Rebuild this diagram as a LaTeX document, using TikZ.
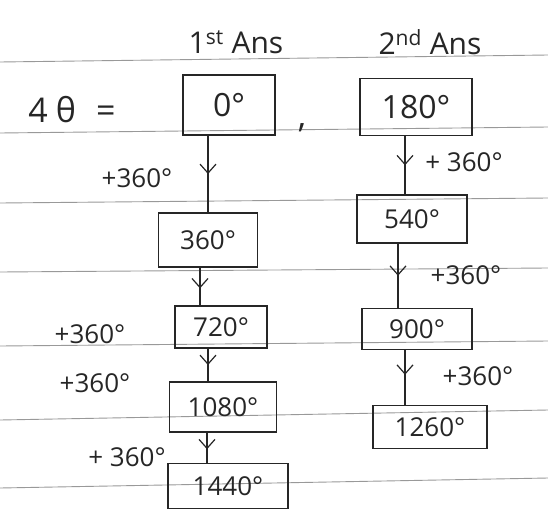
\documentclass[tikz,border=0pt]{standalone}
\usepackage{fontspec}
\setmainfont{Open Sans}
\usetikzlibrary{decorations.markings,arrows.meta}
\begin{document}
\begin{tikzpicture}[x=1pt,y=-1pt,
 ruled/.style={draw=black!40,line width=0.9pt},
 numbox/.style={draw=black!85,line width=1.4pt,inner sep=0pt,font=\fontsize{26}{28}\selectfont,text=black!85},
 bignum/.style={numbox,font=\fontsize{32}{34}\selectfont},
 lbl/.style={font=\fontsize{26}{28}\selectfont,text=black!85,inner sep=0pt},
 flow/.style={draw=black!85,line width=1.2pt,postaction={decorate},
   decoration={markings,mark=at position #1 with {\arrow{Straight Barb[length=9pt,width=16pt,line width=1.2pt]}}}},
 flow/.default=0.5,
]
\fill[white] (0,0) rectangle (548,519);
\useasboundingbox (0,0) rectangle (548,519);

% ruled lines
\draw[ruled] (0,62) -- (548,55);
\draw[ruled] (0,133) -- (548,127);
\draw[ruled] (0,203) -- (548,198);
\draw[ruled] (0,272) -- (548,268);
\draw[ruled] (0,346) -- (548,341);
\draw[ruled] (0,420) -- (548,410);
\draw[ruled] (0,488) -- (548,478);

% headings
\node[lbl,font=\fontsize{30}{32}\selectfont] (h1) at (236,42) {1\textsuperscript{st} Ans};
\node[lbl,font=\fontsize{30}{32}\selectfont] (h2) at (430,42) {2\textsuperscript{nd} Ans};

% equation
\node[lbl,font=\fontsize{34}{36}\selectfont] (eq) at (72,110) {4\hspace{8pt}θ\hspace{20pt}=};
\node[lbl,font=\fontsize{34}{36}\selectfont] (comma) at (302,128) {,};

% boxes
\node[bignum,minimum width=92,minimum height=60] (b0) at (229,105) {0°};
\node[bignum,minimum width=112,minimum height=57] (b180) at (416,107) {180°};
\node[numbox,minimum width=99,minimum height=54] (b360) at (208,240) {360°};
\node[numbox,minimum width=92,minimum height=42] (b720) at (221,327) {720°};
\node[numbox,minimum width=107,minimum height=50] (b1080) at (223,407) {1080°};
\node[numbox,minimum width=120,minimum height=45] (b1440) at (228,486) {1440°};
\node[numbox,minimum width=110,minimum height=48] (b540) at (412,219) {540°};
\node[numbox,minimum width=110,minimum height=41] (b900) at (417,329) {900°};
\node[numbox,minimum width=114,minimum height=43] (b1260) at (430,427) {1260°};

% connectors
\draw[flow=0.5] (b0.south -| 208,0) -- (b360.north -| 208,0);
\draw[flow=0.55] (b360.south -| 200,0) -- (b720.north -| 200,0);
\draw[flow=0.5] (b720.south -| 208,0) -- (b1080.north -| 208,0);
\draw[flow=0.55] (b1080.south -| 207,0) -- (b1440.north -| 207,0);
\draw[flow=0.5] (b180.south -| 405,0) -- (b540.north -| 405,0);
\draw[flow=0.5] (b540.south -| 398,0) -- (b900.north -| 398,0);
\draw[flow=0.45] (b900.south -| 405,0) -- (b1260.north -| 405,0);

% labels
\node[lbl] (l1) at (137,178) {+360°};
\node[lbl] (l2) at (90,334) {+360°};
\node[lbl] (l3) at (95,383) {+360°};
\node[lbl] (l4) at (127,457) {+ 360°};
\node[lbl] (r1) at (464,162) {+ 360°};
\node[lbl] (r2) at (466,275) {+360°};
\node[lbl] (r3) at (478,376) {+360°};
\end{tikzpicture}
\end{document}
